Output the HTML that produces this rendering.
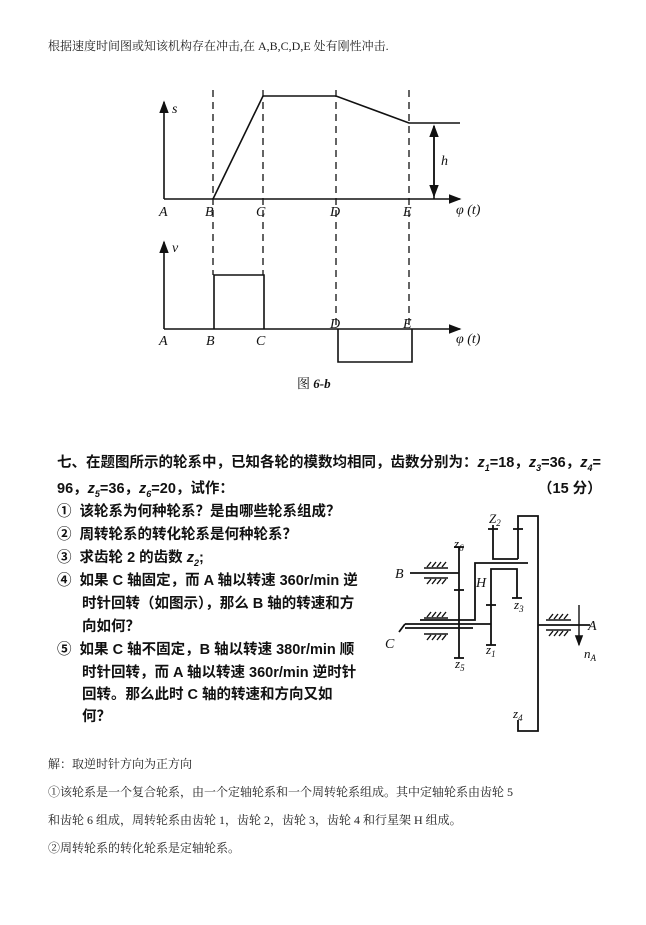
<!DOCTYPE html>
<html><head><meta charset="utf-8"><style>
body{margin:0;background:#fff;width:646px;height:925px;position:relative;overflow:hidden}
.t{position:absolute;white-space:nowrap;font-family:"Liberation Serif","Noto Serif CJK SC",serif;font-size:12px;color:#222}
.b{position:absolute;white-space:nowrap;font-family:"Liberation Sans","Noto Sans CJK SC",sans-serif;font-size:14.5px;font-weight:bold;color:#111;line-height:22px}
svg{position:absolute;left:0;top:0}
svg text{font-family:"Liberation Serif",serif;font-style:italic}
</style></head><body>
<div class="t" style="left:48px;top:37px">根据速度时间图或知该机构存在冲击,在 A,B,C,D,E 处有刚性冲击.</div>

<svg width="646" height="925" viewBox="0 0 646 925">
<defs><marker id="ar" markerWidth="8" markerHeight="8" refX="7" refY="4" orient="auto"><path d="M0,1 L8,4 L0,7z" fill="#111"/></marker></defs>
<g stroke="#111" fill="none" stroke-width="1.6">
<line x1="164" y1="199" x2="164" y2="102" marker-end="url(#ar)"/>
<line x1="164" y1="199" x2="460" y2="199" marker-end="url(#ar)"/>
<polyline points="213,199 263,96 336,96 409,123 460,123"/>
<line x1="434" y1="199" x2="434" y2="126" marker-end="url(#ar)"/>
<line x1="434" y1="126" x2="434" y2="196" marker-end="url(#ar)"/>
<line x1="164" y1="329" x2="164" y2="242" marker-end="url(#ar)"/>
<line x1="164" y1="329" x2="460" y2="329" marker-end="url(#ar)"/>
<polyline points="214,329 214,275 264,275 264,329"/>
<polyline points="338,329 338,362 412,362 412,329"/>
</g>
<g stroke="#111" stroke-width="1.3" stroke-dasharray="7,5">
<line x1="213" y1="90" x2="213" y2="275"/>
<line x1="263" y1="90" x2="263" y2="275"/>
<line x1="336" y1="90" x2="336" y2="325"/>
<line x1="409" y1="90" x2="409" y2="325"/>
</g>
<g font-size="14" fill="#111">
<text x="172" y="113">s</text><text x="441" y="165">h</text>
<text x="159" y="216">A</text><text x="205" y="216">B</text><text x="256" y="216">C</text><text x="330" y="216">D</text><text x="403" y="216">E</text>
<text x="456" y="214">φ (t)</text>
<text x="172" y="252">v</text>
<text x="159" y="345">A</text><text x="206" y="345">B</text><text x="256" y="345">C</text><text x="330" y="328">D</text><text x="403" y="328">E</text>
<text x="456" y="343">φ (t)</text>
</g>
<text x="297" y="388" font-size="13" style="font-style:normal;font-family:'Liberation Serif','Noto Serif CJK SC',serif" fill="#111">图 <tspan font-style="italic" font-weight="bold">6-b</tspan></text>

<g stroke="#111" fill="none" stroke-width="1.8">
<polyline points="518,559 518,516 538,516 538,731 518,731 518,720"/>
<polyline points="493,525 493,559 518,559"/>
<line x1="488" y1="529" x2="498" y2="529"/>
<line x1="513" y1="529" x2="523" y2="529"/>
<polyline points="528,563 475,563 475,620 420,620"/>
<polyline points="491,645 491,569 517,569 517,598"/>
<line x1="512" y1="598" x2="522" y2="598"/>
<line x1="486" y1="605" x2="496" y2="605"/>
<line x1="486" y1="645" x2="496" y2="645"/>
<line x1="405" y1="624" x2="491" y2="624"/>
<line x1="405" y1="628" x2="473" y2="628"/>
<line x1="459" y1="547" x2="459" y2="658"/>
<line x1="454" y1="547" x2="464" y2="547"/>
<line x1="454" y1="590" x2="464" y2="590"/>
<line x1="454" y1="658" x2="464" y2="658"/>
<line x1="410" y1="573" x2="459" y2="573"/>
<line x1="538" y1="625" x2="590" y2="625"/>
<line x1="399" y1="632" x2="405" y2="624"/>
</g>
<g stroke="#111" stroke-width="1.4">
<line x1="424" y1="568" x2="448" y2="568"/><line x1="424" y1="578" x2="448" y2="578"/>
<line x1="424" y1="618" x2="448" y2="618"/><line x1="424" y1="634" x2="448" y2="634"/>
<line x1="546" y1="620" x2="571" y2="620"/><line x1="546" y1="630" x2="571" y2="630"/>
<path d="M427,567 l4,-5 M432,567 l4,-5 M437,567 l4,-5 M442,567 l4,-5 M427,584 l4,-5 M432,584 l4,-5 M437,584 l4,-5 M442,584 l4,-5 M427,617 l4,-5 M432,617 l4,-5 M437,617 l4,-5 M442,617 l4,-5 M427,640 l4,-5 M432,640 l4,-5 M437,640 l4,-5 M442,640 l4,-5 M549,619 l4,-5 M554,619 l4,-5 M559,619 l4,-5 M564,619 l4,-5 M549,636 l4,-5 M554,636 l4,-5 M559,636 l4,-5 M564,636 l4,-5"/>
<line x1="579" y1="605" x2="579" y2="645" marker-end="url(#ar)"/>
</g>
<g font-size="13" fill="#111">
<text x="489" y="523">Z<tspan font-size="9" dy="3">2</tspan></text>
<text x="454" y="548">z<tspan font-size="9" dy="3">6</tspan></text>
<text x="395" y="578" font-size="14">B</text>
<text x="476" y="587" font-size="14">H</text>
<text x="514" y="609">z<tspan font-size="9" dy="3">3</tspan></text>
<text x="486" y="654">z<tspan font-size="9" dy="3">1</tspan></text>
<text x="455" y="668">z<tspan font-size="9" dy="3">5</tspan></text>
<text x="385" y="648" font-size="14">C</text>
<text x="588" y="630" font-size="14">A</text>
<text x="584" y="658">n<tspan font-size="9" dy="3">A</tspan></text>
<text x="513" y="718">z<tspan font-size="9" dy="3">4</tspan></text>
</g>
</svg>

<div class="b" style="left:57px;top:452px">七、在题图所示的轮系中，已知各轮的模数均相同，齿数分别为：<i>z<sub style="font-size:9px">1</sub></i>=18，<i>z<sub style="font-size:9px">3</sub></i>=36，<i>z<sub style="font-size:9px">4</sub></i>=</div>
<div class="b" style="left:57px;top:478px">96，<i>z<sub style="font-size:9px">5</sub></i>=36，<i>z<sub style="font-size:9px">6</sub></i>=20，试作：</div>
<div class="b" style="left:538px;top:478px">（15 分）</div>
<div class="b" style="left:57px;top:501px">①&nbsp; 该轮系为何种轮系？是由哪些轮系组成？</div>
<div class="b" style="left:57px;top:524px">②&nbsp; 周转轮系的转化轮系是何种轮系？</div>
<div class="b" style="left:57px;top:547px">③&nbsp; 求齿轮 2 的齿数 <i>z<sub style="font-size:9px">2</sub></i>;</div>
<div class="b" style="left:57px;top:570px">④&nbsp; 如果 C 轴固定，而 A 轴以转速 360r/min 逆</div>
<div class="b" style="left:82px;top:593px">时针回转（如图示），那么 B 轴的转速和方</div>
<div class="b" style="left:82px;top:616px">向如何？</div>
<div class="b" style="left:57px;top:639px">⑤&nbsp; 如果 C 轴不固定，B 轴以转速 380r/min 顺</div>
<div class="b" style="left:82px;top:662px">时针回转，而 A 轴以转速 360r/min 逆时针</div>
<div class="b" style="left:82px;top:684px">回转。那么此时 C 轴的转速和方向又如</div>
<div class="b" style="left:82px;top:706px">何？</div>

<div class="t" style="left:48px;top:755px">解：取逆时针方向为正方向</div>
<div class="t" style="left:48px;top:783px">①该轮系是一个复合轮系，由一个定轴轮系和一个周转轮系组成。其中定轴轮系由齿轮 5</div>
<div class="t" style="left:48px;top:811px">和齿轮 6 组成，周转轮系由齿轮 1，齿轮 2，齿轮 3，齿轮 4 和行星架 H 组成。</div>
<div class="t" style="left:48px;top:839px">②周转轮系的转化轮系是定轴轮系。</div>
</body></html>
